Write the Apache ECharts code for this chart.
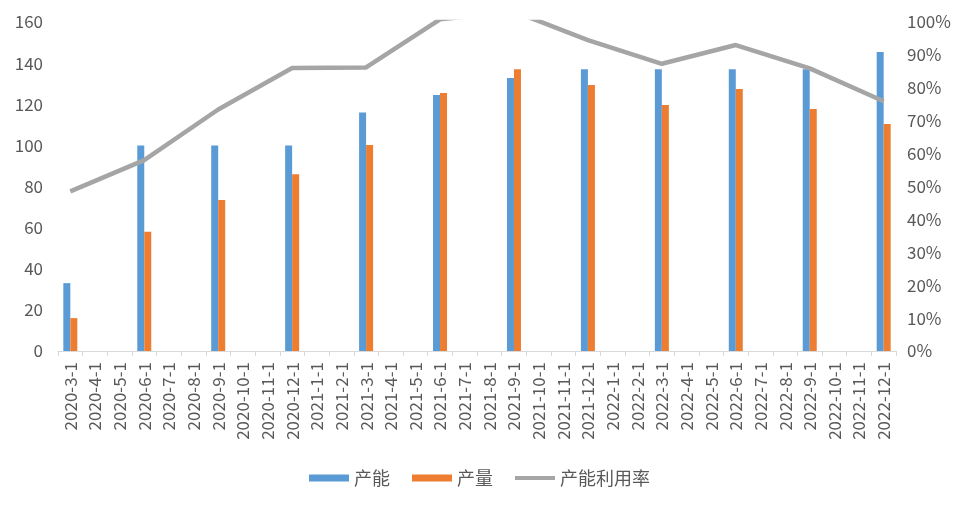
<!DOCTYPE html>
<html>
<head>
<meta charset="utf-8">
<script src="https://cdn.jsdelivr.net/npm/echarts@6/dist/echarts.min.js"></script>
<style>
  html, body { margin: 0; padding: 0; background: #fff; }
  #chart { width: 959px; height: 507px; }
</style>
</head>
<body>
<div id="chart"></div>
<script>
// 月份类目
var months = [
  '2020-3-1', '2020-4-1', '2020-5-1', '2020-6-1', '2020-7-1', '2020-8-1', '2020-9-1',
  '2020-10-1', '2020-11-1', '2020-12-1', '2021-1-1', '2021-2-1', '2021-3-1', '2021-4-1',
  '2021-5-1', '2021-6-1', '2021-7-1', '2021-8-1', '2021-9-1', '2021-10-1', '2021-11-1',
  '2021-12-1', '2022-1-1', '2022-2-1', '2022-3-1', '2022-4-1', '2022-5-1', '2022-6-1',
  '2022-7-1', '2022-8-1', '2022-9-1', '2022-10-1', '2022-11-1', '2022-12-1'
];
// 有数据的季度
var quarters = [
  '2020-3-1', '2020-6-1', '2020-9-1', '2020-12-1', '2021-3-1', '2021-6-1',
  '2021-9-1', '2021-12-1', '2022-3-1', '2022-6-1', '2022-9-1', '2022-12-1'
];
var capacity = [33, 100, 100, 100, 116, 124.5, 132.8, 137, 137, 137, 137, 145.4];  // 产能
var output = [16, 58, 73.4, 86, 100.2, 125.5, 137, 129.4, 119.6, 127.4, 117.7, 110.4];  // 产量
var utilization = [48.5, 58, 73.4, 86, 86.2, 100.8, 103.2, 94.5, 87.3, 93, 85.9, 75.9]; // 产能利用率 %

var leftTicks = { min: 0, max: 160, interval: 20 };
var rightTicks = { min: 0, max: 100, interval: 10 };

// 季度数据铺到月份上，其余月份为空
function spread(values) {
  return months.map(function (m) {
    var i = quarters.indexOf(m);
    return i >= 0 ? values[i] : null;
  });
}

var textColor = '#595959';
var font = '"Noto Sans CJK SC", "Noto Sans", sans-serif';

var myChart = echarts.init(document.getElementById('chart'));

var option = {
  backgroundColor: '#fff',
  animation: false,
  textStyle: { fontFamily: font },
  grid: { left: 58, right: 63, top: 22, bottom: 156 },
  legend: {
    bottom: 15,
    left: 'center',
    itemWidth: 40,
    itemHeight: 7,
    itemGap: 22,
    textStyle: { color: textColor, fontSize: 18, fontFamily: font },
    data: [
      { name: '产能', icon: 'rect' },
      { name: '产量', icon: 'rect' },
      { name: '产能利用率', icon: 'path://M0,0h40v4h-40z' }
    ]
  },
  xAxis: {
    type: 'category',
    data: months,
    boundaryGap: true,
    axisLine: { lineStyle: { color: '#D9D9D9', width: 1 } },
    axisTick: { show: true, length: 5, lineStyle: { color: '#D9D9D9' } },
    axisLabel: {
      interval: 0,
      rotate: 90,
      margin: 11,
      color: textColor,
      fontSize: 17,
      fontFamily: font
    }
  },
  yAxis: [
    {
      type: 'value',
      min: leftTicks.min,
      max: leftTicks.max,
      interval: leftTicks.interval,
      splitLine: { show: false },
      axisLine: { show: false },
      axisTick: { show: false },
      axisLabel: { color: textColor, fontSize: 17, margin: 15, fontFamily: font }
    },
    {
      type: 'value',
      min: rightTicks.min,
      max: rightTicks.max,
      interval: rightTicks.interval,
      splitLine: { show: false },
      axisLine: { show: false },
      axisTick: { show: false },
      axisLabel: { color: textColor, fontSize: 17, margin: 11, fontFamily: font, formatter: '{value}%' }
    }
  ],
  series: [
    {
      name: '产能',
      type: 'bar',
      barWidth: 7,
      barGap: '0%',
      itemStyle: { color: '#5B9BD5' },
      data: spread(capacity)
    },
    {
      name: '产量',
      type: 'bar',
      barWidth: 7,
      itemStyle: { color: '#ED7D31' },
      data: spread(output)
    },
    {
      name: '产能利用率',
      type: 'line',
      yAxisIndex: 1,
      connectNulls: true,
      showSymbol: false,
      symbol: 'none',
      clip: true,
      itemStyle: { color: '#A5A5A5' },
      lineStyle: { color: '#A5A5A5', width: 4.5 },
      data: spread(utilization)
    }
  ]
};
myChart.setOption(option);
</script>
</body>
</html>
